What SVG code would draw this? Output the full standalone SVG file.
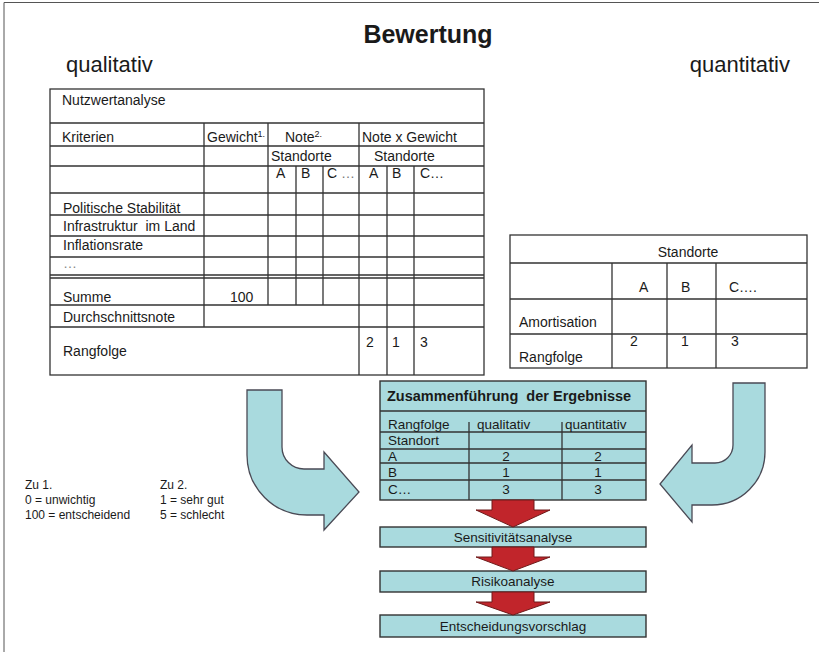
<svg xmlns="http://www.w3.org/2000/svg" width="819" height="652" viewBox="0 0 819 652">
<style>
text{font-family:"Liberation Sans",Arial,sans-serif;fill:#1a1a1a}
.t{font-size:14px}
.c{font-size:13.5px}
.f{font-size:12px}
.ln{stroke:#333;stroke-width:1.3;fill:none}
.box{fill:#a9dade;stroke:#333;stroke-width:1.4}
.cy{fill:#a9dade;stroke:#4a4a55;stroke-width:1.3}
.rd{fill:#c1252b;stroke:#6e1a1a;stroke-width:1}
</style>
<rect width="819" height="652" fill="#fff"/>
<path d="M4,652 V2.5 H819" stroke="#555" stroke-width="1" fill="none"/>
<g id="title">
<text x="428" y="43" font-size="25" font-weight="bold" text-anchor="middle">Bewertung</text>
<text x="66" y="72" font-size="22">qualitativ</text>
<text x="790" y="72" font-size="22" text-anchor="end">quantitativ</text>
</g>
<g id="nutzwertanalyse">
<rect x="50" y="89" width="434" height="286" class="ln"/>
<path class="ln" d="M50,123H484M50,146H484M50,166H484M50,193H484M50,215H484M50,236H484M50,257H484M50,275H484M50,278H484M50,305H484M50,327H484"/>
<path class="ln" d="M204,123V327M268,123V305M296,166V305M323,166V305M359,123V375M387,166V375M414,166V375"/>
<text class="t" x="62" y="105">Nutzwertanalyse</text>
<text class="t" x="62" y="142">Kriterien</text>
<text class="t" x="207" y="142">Gewicht<tspan font-size="9" dy="-5">1.</tspan></text>
<text class="t" x="285" y="142">Note<tspan font-size="9" dy="-5">2.</tspan></text>
<text class="t" x="362" y="142">Note x Gewicht</text>
<text class="t" x="271" y="161">Standorte</text>
<text class="t" x="374" y="161">Standorte</text>
<text class="t" x="276" y="178">A</text>
<text class="t" x="301" y="178">B</text>
<text class="t" x="327" y="178">C <tspan style="fill:#777">…</tspan></text>
<text class="t" x="369" y="178">A</text>
<text class="t" x="392" y="178">B</text>
<text class="t" x="420" y="178">C…</text>
<text class="t" x="63" y="213">Politische Stabilität</text>
<text class="t" x="63" y="231" xml:space="preserve">Infrastruktur  im Land</text>
<text class="t" x="63" y="250">Inflationsrate</text>
<text class="t" x="63" y="268" style="fill:#888">…</text>
<text class="t" x="63" y="302">Summe</text>
<text class="t" x="230" y="302">100</text>
<text class="t" x="63" y="322">Durchschnittsnote</text>
<text class="t" x="63" y="356">Rangfolge</text>
<text class="t" x="366" y="347">2</text>
<text class="t" x="392" y="347">1</text>
<text class="t" x="420" y="347">3</text>
</g>
<g id="amortisation">
<rect x="510" y="235" width="297" height="133" class="ln"/>
<path class="ln" d="M510,263H807M510,299H807M510,334H807M612,263V368M667,263V368M716,263V368"/>
<text class="t" x="688" y="257" text-anchor="middle">Standorte</text>
<text class="t" x="639" y="292">A</text>
<text class="t" x="681" y="292">B</text>
<text class="t" x="729" y="292">C….</text>
<text class="t" x="519" y="327">Amortisation</text>
<text class="t" x="519" y="362">Rangfolge</text>
<text class="t" x="630" y="346">2</text>
<text class="t" x="681" y="346">1</text>
<text class="t" x="731" y="346">3</text>
</g>
<g id="notes">
<text class="f" x="25" y="489">Zu 1.</text>
<text class="f" x="25" y="504">0 = unwichtig</text>
<text class="f" x="25" y="519">100 = entscheidend</text>
<text class="f" x="160" y="489">Zu 2.</text>
<text class="f" x="160" y="504">1 = sehr gut</text>
<text class="f" x="160" y="519">5 = schlecht</text>
</g>
<g id="zusammenfuehrung">
<rect x="380" y="381" width="266" height="119" class="box"/>
<path class="ln" d="M380,411H646M380,432H646M380,449H646M380,463H646M380,480H646M469,422V500M562,422V500"/>
<text x="387" y="401" font-size="14.5" font-weight="bold" xml:space="preserve">Zusammenführung  der Ergebnisse</text>
<text class="c" x="388" y="429">Rangfolge</text>
<text class="c" x="477" y="429">qualitativ</text>
<text class="c" x="565" y="429">quantitativ</text>
<text class="c" x="388" y="445">Standort</text>
<text class="c" x="388" y="461">A</text>
<text class="c" x="506" y="461" text-anchor="middle">2</text>
<text class="c" x="598" y="461" text-anchor="middle">2</text>
<text class="c" x="388" y="477">B</text>
<text class="c" x="506" y="477" text-anchor="middle">1</text>
<text class="c" x="598" y="477" text-anchor="middle">1</text>
<text class="c" x="388" y="494">C…</text>
<text class="c" x="506" y="494" text-anchor="middle">3</text>
<text class="c" x="598" y="494" text-anchor="middle">3</text>
</g>
<g id="sensitivitaet">
<rect x="380" y="527" width="266" height="20" class="box"/>
<text class="c" x="513" y="542" text-anchor="middle">Sensitivitätsanalyse</text>
</g>
<g id="risiko">
<rect x="380" y="571" width="266" height="21" class="box"/>
<text class="c" x="513" y="586" text-anchor="middle">Risikoanalyse</text>
</g>
<g id="entscheidung">
<rect x="380" y="615" width="266" height="22" class="box"/>
<text class="c" x="513" y="631" text-anchor="middle">Entscheidungsvorschlag</text>
</g>
<g id="connectors">
<path class="cy" d="M247,390 L282,390 L282,447 A22,22 0 0 0 304,469 L324,469 L324,452 L359,492 L324,530 L324,515 L307,515 A60,60 0 0 1 247,455 Z"/>
<path class="cy" d="M765,383 L733,383 L733,445 A18,18 0 0 1 715,463 L692,463 L692,445 L660,484 L692,522 L692,505 L712,505 A53,53 0 0 0 765,452 Z"/>
<path class="rd" d="M492,500 H534 V510 H550 L513,527 L476,510 H492 Z"/>
<path class="rd" d="M492,547 H534 V557 H550 L513,571 L476,557 H492 Z"/>
<path class="rd" d="M492,592 H534 V602 H550 L513,615 L476,602 H492 Z"/>
</g>
</svg>
